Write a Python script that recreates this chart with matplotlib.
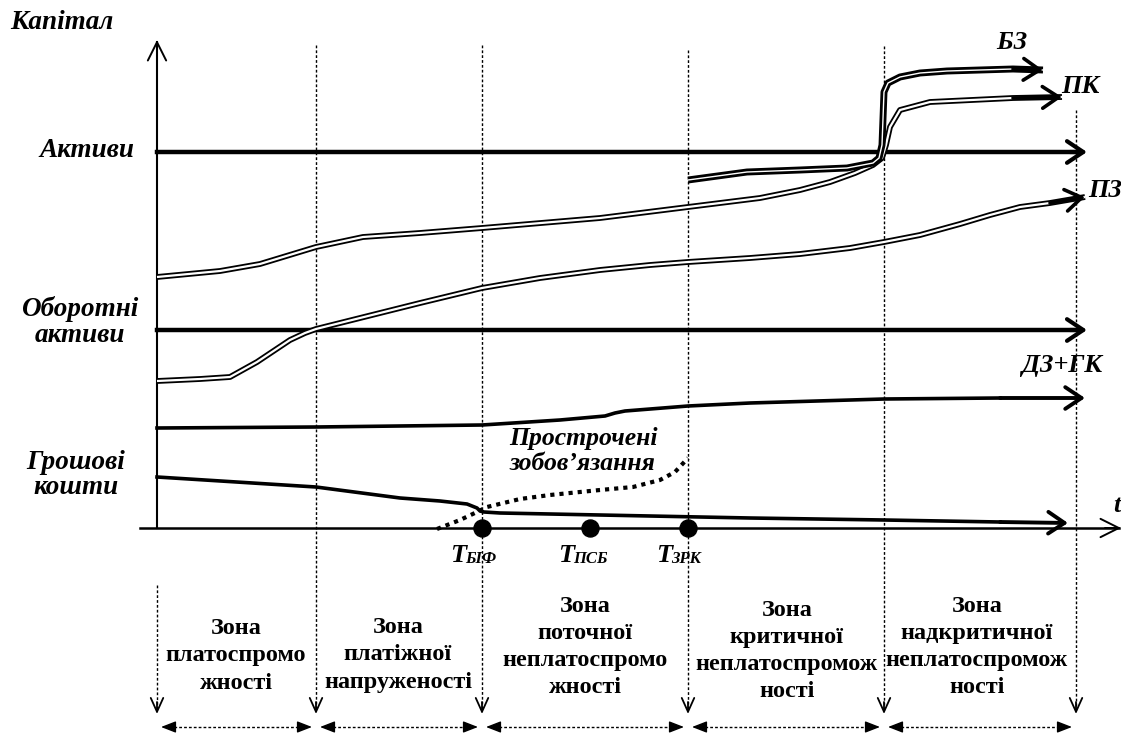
import matplotlib
matplotlib.use('Agg')
import matplotlib.pyplot as plt

W, H = 1121, 735

# ---- data (diagram units, y grows downward) ----
zone_bounds = [157, 316, 482, 688, 884, 1076]
zone_labels = ["Зона\nплатоспромо\nжності",
               "Зона\nплатіжної\nнапруженості",
               "Зона\nпоточної\nнеплатоспромо\nжності",
               "Зона\nкритичної\nнеплатоспромож\nності",
               "Зона\nнадкритичної\nнеплатоспромож\nності"]
zone_label_x = [236, 398, 585, 787, 977]
zone_label_y = [656, 655, 647, 651, 647]
vline_top = [None, 45, 45, 50, 46, 110]

assets_level = 152
current_assets_level = 330

pk_x = [157, 220, 260, 316, 363, 420, 482, 600, 688, 760, 800, 830, 855, 873, 882, 886, 890, 900, 930, 1013, 1062]
pk_y = [277, 271, 264, 247, 237, 233, 228, 218, 207, 198, 190, 182, 173, 165, 158, 145, 127, 110, 102, 98, 97]

bz_x = [688, 747, 800, 847, 873, 879, 882, 884, 888, 900, 920, 947, 1013, 1043]
bz_y = [180, 172, 170, 168, 163, 158, 145, 92, 83, 77, 73, 71, 69, 70]

pz_x = [157, 200, 230, 257, 275, 290, 305, 316, 360, 420, 482, 540, 600, 650, 688, 750, 800, 850, 884, 920, 960, 990, 1020, 1050, 1085]
pz_y = [381, 379, 377, 362, 350, 340, 333, 329, 318, 303, 288, 278, 270, 265, 262, 258, 254, 248, 242, 235, 224, 215, 207, 203, 197]

dz_x = [157, 316, 482, 560, 605, 615, 625, 688, 750, 884, 1000, 1085]
dz_y = [428, 427, 425, 420, 416, 413, 411, 406, 403, 399, 398, 398]

cash_x = [157, 316, 400, 440, 467, 477, 480, 484, 500, 600, 750, 884, 1000, 1068]
cash_y = [477, 487, 498, 501, 504, 508, 511, 512, 513, 515, 518, 520, 522, 523]

od_x = [437, 460, 477, 487, 520, 550, 600, 633, 660, 675, 688]
od_y = [529, 520, 512, 507, 499, 495, 490, 487, 480, 472, 458]

event_x = [482, 590, 688]
event_sub = ["БІФ", "ПСБ", "ЗРК"]

axis_y = 528
axis_x = 157

# ---- drawing ----
fig = plt.figure(figsize=(W / 100, H / 100), dpi=100)
ax = fig.add_axes([0, 0, 1, 1])
ax.set_xlim(0, W)
ax.set_ylim(H, 0)
ax.axis('off')

SERIF = ['Liberation Serif', 'DejaVu Serif']


def head(x0, y0, x1, y1, lw=3, ms=13, hl=0.9, hw=0.6, style='->'):
    ax.annotate('', xy=(x1, y1), xytext=(x0, y0),
                arrowprops=dict(arrowstyle=f'{style},head_length={hl},head_width={hw}',
                                lw=lw, color='black', mutation_scale=ms,
                                shrinkA=0, shrinkB=0), zorder=6)


def double_line(xs, ys, outer=4.2, inner=1.6, z=4):
    ax.plot(xs, ys, color='black', lw=outer, solid_capstyle='butt', solid_joinstyle='round', zorder=z)
    ax.plot(xs, ys, color='white', lw=inner, solid_capstyle='butt', solid_joinstyle='round', zorder=z + 0.1)
    head(xs[-2], ys[-2], xs[-1], ys[-1], lw=2.6)

# axes
ax.plot([axis_x, axis_x], [axis_y, 42], color='black', lw=1.5, zorder=3)
head(axis_x, 55, axis_x, 40, lw=1.4, ms=12, hl=1.1, hw=0.55)
ax.plot([140, 1119], [axis_y, axis_y], color='black', lw=1.8, zorder=3)
head(1105, axis_y, 1121, axis_y, lw=1.4, ms=12, hl=1.1, hw=0.55)

# vertical dotted zone lines
for xb, top in zip(zone_bounds, vline_top):
    t = 585 if top is None else top
    ax.plot([xb, xb], [t, 710], color='black', lw=1.0, ls=(0, (2, 1.5)), zorder=2)
    head(xb, 702, xb, 714, lw=1.3, ms=10, hl=1.0, hw=0.45)

# horizontal dotted double arrows
for a, b in zip(zone_bounds[:-1], zone_bounds[1:]):
    ax.plot([a + 12, b - 12], [727, 727], color='black', lw=1.0, ls=(0, (2, 1.5)), zorder=2)
    head(a + 16, 727, a + 4, 727, lw=1.0, ms=10, hl=0.9, hw=0.35, style='-|>')
    head(b - 16, 727, b - 4, 727, lw=1.0, ms=10, hl=0.9, hw=0.35, style='-|>')

# level lines
ax.plot([axis_x, 1080], [assets_level, assets_level], color='black', lw=3.2, zorder=4)
head(1070, assets_level, 1087, assets_level, lw=3)
ax.plot([axis_x, 1080], [current_assets_level, current_assets_level], color='black', lw=3.2, zorder=4)
head(1070, current_assets_level, 1087, current_assets_level, lw=3)

# curves
double_line(pz_x, pz_y)
double_line(pk_x, pk_y)
double_line(bz_x, bz_y, outer=5.0, inner=1.0, z=5)

ax.plot(dz_x[:-1], dz_y[:-1], color='black', lw=2.6, zorder=4)
head(dz_x[-2], dz_y[-2], dz_x[-1], dz_y[-1], lw=2.8)
ax.plot(cash_x[:-1], cash_y[:-1], color='black', lw=2.6, zorder=4)
head(cash_x[-2], cash_y[-2], cash_x[-1], cash_y[-1], lw=2.8)
ax.plot(od_x, od_y, color='black', lw=3.0, ls=(0, (1, 1.2)), zorder=4)

ax.scatter(event_x, [axis_y] * len(event_x), s=150, color='black', zorder=7)

# labels
bi = dict(family=SERIF, fontweight='bold', fontstyle='italic', color='black')
ax.text(10, 22, "Капітал", fontsize=19.5, ha='left', va='center', **bi)
ax.text(134, 150, "Активи", fontsize=19.5, ha='right', va='center', **bi)
ax.text(80, 322, "Оборотні\nактиви", fontsize=19.5, ha='center', va='center', linespacing=1.05, **bi)
ax.text(76, 475, "Грошові\nкошти", fontsize=19.5, ha='center', va='center', linespacing=1.05, **bi)
ax.text(1012, 42, "БЗ", fontsize=19, ha='center', va='center', **bi)
ax.text(1080, 86, "ПК", fontsize=19, ha='center', va='center', **bi)
ax.text(1105, 190, "ПЗ", fontsize=19, ha='center', va='center', **bi)
ax.text(1062, 365, "ДЗ+ГК", fontsize=19, ha='center', va='center', **bi)
ax.text(583, 451, "Прострочені\nзобов’язання", fontsize=18.5, ha='center', va='center', linespacing=1.12, **bi)
ax.text(1113, 505, "t", fontsize=19, ha='left', va='center', **bi)

for ex, sub in zip(event_x, event_sub):
    ax.text(ex - 16, 555, "T", fontsize=19, ha='right', va='center', **bi)
    ax.text(ex - 17, 559, sub, fontsize=12, ha='left', va='center', **bi)

for zx, zy, zl in zip(zone_label_x, zone_label_y, zone_labels):
    ax.text(zx, zy, zl, fontsize=17.5, ha='center', va='center', family=SERIF,
            fontweight='bold', linespacing=1.38)

fig.savefig('out.png', dpi=100)
